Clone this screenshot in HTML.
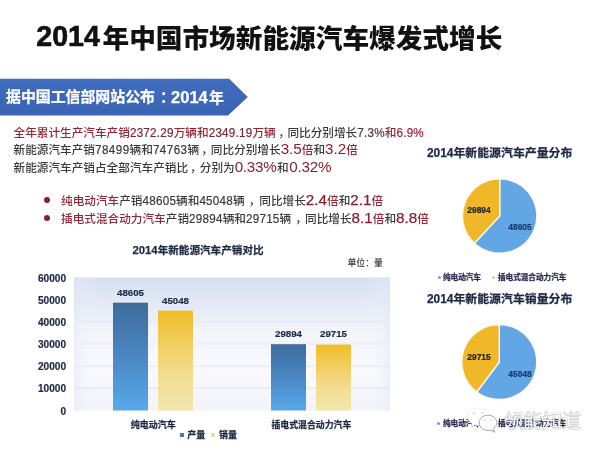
<!DOCTYPE html>
<html><head><meta charset="utf-8">
<style>
*{margin:0;padding:0;box-sizing:border-box}
html,body{width:600px;height:450px;overflow:hidden;background:#fff}
body{position:relative;font-family:"Liberation Sans","Noto Sans CJK SC",sans-serif;color:#3a3a3a}
.a{position:absolute;white-space:nowrap;line-height:1}
.r{color:#952638}
.big{font-size:15.2px;color:#86202f}
.bb .big{-webkit-text-stroke:0.25px}
.d2{letter-spacing:0.45px;-webkit-text-stroke:0.2px;display:inline-block;transform:translateY(-0.5px) scaleY(1.12);transform-origin:50% 84.6%}
.cm{margin-right:1.5px}
.cma{position:relative;left:5.5px}
#title{left:38px;top:25px;font-size:27px;font-weight:900;color:#111}
.bt{top:89.8px;font-weight:bold;color:#fff;-webkit-text-stroke:0.25px #fff}
.ln{font-size:11.65px;left:13.5px;font-weight:500}
.d{letter-spacing:0.25px;-webkit-text-stroke:0.2px;display:inline-block;transform:translateY(-0.5px) scaleY(1.12);transform-origin:50% 84.6%}
.ct{font-weight:bold;color:#1e2a45}
.pt{-webkit-text-stroke:0.25px #1e2a45}
.yl{left:26px;font-size:10.1px;font-weight:bold;color:#1e2a45;-webkit-text-stroke:0.2px #1e2a45;text-align:right;width:40px}
.bl{font-size:9.7px;font-weight:bold;color:#1e2a45;-webkit-text-stroke:0.2px #1e2a45;text-align:center;width:40px}
</style></head><body>
<div class="a" id="title" style="left:102.5px;top:25.5px;font-size:26.66px">年中国市场新能源汽车爆发式增长</div>
<div class="a" style="left:36.3px;top:21.5px;font-size:28.6px;font-weight:bold;color:#111;-webkit-text-stroke:0.6px #111">2014</div>
<svg class="a" style="left:0;top:0" width="600" height="450">
  <defs>
    <linearGradient id="ban" x1="0" y1="0" x2="0" y2="1">
      <stop offset="0" stop-color="#416dbf"/>
      <stop offset="1" stop-color="#3a64b3"/>
    </linearGradient>
  </defs>
  <polygon points="0,78.8 229.2,78.8 247.8,97 228,115.4 0,115.4" fill="url(#ban)"/>
</svg>
<div class="a bt" style="left:6px;font-size:14.9px">据中国工信部网站公布</div>
<div class="a bt" style="left:160px;font-size:14.6px">：</div>
<div class="a bt" style="left:171.1px;top:88.6px;font-size:16.5px">2014<span style="font-size:14.9px;margin-left:1.1px">年</span></div>

<div class="a ln" style="top:127.4px"><span class="r">全年累计生产汽车产销<span class="d" style="color:#7a2835">2372.29</span>万辆和<span class="d" style="color:#7a2835">2349.19</span>万辆</span><span class="cma" style="left:2.6px">，</span>同比分别增长<span class="d" style="color:#553640">7.3%</span><span class="r">和<span class="d">6.9%</span></span></div>
<div class="a ln" style="top:141.4px">新能源汽车产销<span class="d2">78499</span>辆和<span class="d2">74763</span>辆<span class="cma" style="left:2px">，</span>同比分别增长<span class="r big">3.5</span><span class="r">倍</span>和<span class="r big">3.2</span><span class="r">倍</span></div>
<div class="a ln" style="top:159.3px">新能源汽车产销占全部汽车产销比<span class="cma" style="left:2px">，</span>分别为<span class="r big" style="letter-spacing:-0.25px">0.33%</span><span style="margin:0 0.6px 0 0.6px">和</span><span class="r big" style="letter-spacing:-0.25px">0.32%</span></div>

<div class="a" style="left:44px;top:197.3px;width:6px;height:6px;border-radius:50%;background:#8e1f2a"></div>
<div class="a" style="left:44px;top:215.2px;width:6px;height:6px;border-radius:50%;background:#8e1f2a"></div>
<div class="a ln bb" style="left:61px;top:192px"><span class="r">纯电动汽车</span>产销<span class="d">48605</span>辆和<span class="d">45048</span>辆<span class="cm cma" style="left:4px;margin-right:3px">，</span>同比增长<span class="r big">2.4</span><span class="r">倍</span>和<span class="r big">2.1</span><span class="r">倍</span></div>
<div class="a ln bb" style="left:61px;top:209.75px"><span class="r">插电式混合动力汽车</span>产销<span class="d">29894</span>辆和<span class="d">29715</span>辆<span class="cm cma" style="left:4px;margin-right:2.2px">，</span>同比增长<span class="r big">8.1</span><span class="r">倍</span>和<span class="r big">8.8</span><span class="r">倍</span></div>

<!-- bar chart -->
<div class="a ct pt" style="left:132.5px;top:244.5px;font-size:10.6px"><span style="font-size:11.3px">2014</span>年新能源汽车产销对比</div>
<div class="a" style="left:347.5px;top:259.3px;font-size:8.9px;color:#333;font-weight:500">单位：量</div>
<svg class="a" style="left:0;top:0" width="600" height="450">
  <defs>
    <linearGradient id="plot" x1="0" y1="0" x2="0" y2="1">
      <stop offset="0" stop-color="#d4dff0"/>
      <stop offset="0.17" stop-color="#e1e8f5"/>
      <stop offset="0.42" stop-color="#f3f5fb"/>
      <stop offset="0.7" stop-color="#f9f9fd"/>
      <stop offset="1" stop-color="#f3f4fa"/>
    </linearGradient>
    <linearGradient id="plotx" x1="0" y1="0" x2="1" y2="0">
      <stop offset="0" stop-color="#dfe7f4" stop-opacity="0.5"/>
      <stop offset="0.08" stop-color="#ffffff" stop-opacity="0"/>
      <stop offset="0.92" stop-color="#ffffff" stop-opacity="0"/>
      <stop offset="1" stop-color="#dfe7f4" stop-opacity="0.5"/>
    </linearGradient>
    <linearGradient id="bb" x1="0" y1="0" x2="0" y2="1">
      <stop offset="0" stop-color="#3d6c9b"/>
      <stop offset="0.5" stop-color="#4a87c3"/>
      <stop offset="1" stop-color="#58a9ea"/>
    </linearGradient>
    <linearGradient id="by" x1="0" y1="0" x2="0" y2="1">
      <stop offset="0" stop-color="#efbe27"/>
      <stop offset="0.35" stop-color="#f1cf62"/>
      <stop offset="0.7" stop-color="#f2df98"/>
      <stop offset="1" stop-color="#f2e6aa"/>
    </linearGradient>
  </defs>
  <rect x="74" y="277.5" width="316" height="133" fill="url(#plot)"/>
  <rect x="74" y="277.5" width="316" height="133" fill="url(#plotx)"/>
  <g stroke="#e4e7ee" stroke-width="1">
    <line x1="74" x2="390" y1="299.7" y2="299.7"/>
    <line x1="74" x2="390" y1="321.8" y2="321.8"/>
    <line x1="74" x2="390" y1="344" y2="344"/>
    <line x1="74" x2="390" y1="366.2" y2="366.2"/>
    <line x1="74" x2="390" y1="388.3" y2="388.3"/>
  </g>
  <rect x="113" y="302.7" width="35" height="107.8" fill="url(#bb)"/>
  <rect x="158" y="310.6" width="35" height="99.9" fill="url(#by)"/>
  <rect x="271" y="344.2" width="35" height="66.3" fill="url(#bb)"/>
  <rect x="316" y="344.6" width="35" height="65.9" fill="url(#by)"/>
</svg>
<div class="a yl" style="top:273.5px">60000</div>
<div class="a yl" style="top:295.7px">50000</div>
<div class="a yl" style="top:317.9px">40000</div>
<div class="a yl" style="top:339.7px">30000</div>
<div class="a yl" style="top:362px">20000</div>
<div class="a yl" style="top:384.2px">10000</div>
<div class="a yl" style="top:406.5px">0</div>

<div class="a bl" style="left:110.5px;top:287.5px">48605</div>
<div class="a bl" style="left:155.5px;top:295.5px">45048</div>
<div class="a bl" style="left:268.5px;top:328.6px">29894</div>
<div class="a bl" style="left:313.5px;top:328.6px">29715</div>

<div class="a ct" style="left:130.7px;top:421.4px;font-size:9px;-webkit-text-stroke:0.25px #1e2a45">纯电动汽车</div>
<div class="a ct" style="left:271.5px;top:421.4px;font-size:8.9px;-webkit-text-stroke:0.25px #1e2a45">插电式混合动力汽车</div>
<div class="a" style="left:180.4px;top:432.7px;width:4px;height:4px;background:#4a7ab2"></div>
<div class="a ct" style="left:187.2px;top:431.2px;font-size:9px;-webkit-text-stroke:0.25px #1e2a45">产量</div>
<div class="a" style="left:210.5px;top:432.7px;width:4.5px;height:4px;background:#e7e2a8"></div>
<div class="a ct" style="left:219px;top:431.2px;font-size:9px;-webkit-text-stroke:0.25px #1e2a45">销量</div>

<!-- pies -->
<div class="a ct pt" style="left:427px;top:147.8px;font-size:11.9px">2014年新能源汽车产量分布</div>
<div class="a ct pt" style="left:427px;top:293.8px;font-size:11.9px">2014年新能源汽车销量分布</div>
<svg class="a" style="left:0;top:0" width="600" height="450" id="pies"><path d="M499.70,216.00 L499.70,178.80 A37.2,37.2 0 1 1 474.37,243.25 Z" fill="#62a6e6" stroke="#fdf9ee" stroke-width="1.4" stroke-linejoin="round"/><path d="M499.70,216.00 L474.37,243.25 A37.2,37.2 0 0 1 499.70,178.80 Z" fill="#f0b829" stroke="#fdf9ee" stroke-width="1.4" stroke-linejoin="round"/><path d="M499.30,362.00 L499.30,324.50 A37.5,37.5 0 1 1 476.78,391.98 Z" fill="#62a6e6" stroke="#fdf9ee" stroke-width="1.4" stroke-linejoin="round"/><path d="M499.30,362.00 L476.78,391.98 A37.5,37.5 0 0 1 499.30,324.50 Z" fill="#f0b829" stroke="#fdf9ee" stroke-width="1.4" stroke-linejoin="round"/></svg>


<!-- pie labels -->
<div class="a" style="left:466px;top:205.5px;font-size:8.4px;font-weight:bold;color:#222;-webkit-text-stroke:0.2px #222;width:26px;text-align:center">29894</div>
<div class="a" style="left:507px;top:222.5px;font-size:8.4px;font-weight:bold;color:#1c3874;-webkit-text-stroke:0.2px #1c3874;width:26px;text-align:center">48605</div>
<div class="a" style="left:466px;top:352.5px;font-size:8.4px;font-weight:bold;color:#222;-webkit-text-stroke:0.2px #222;width:26px;text-align:center">29715</div>
<div class="a" style="left:507px;top:369.5px;font-size:8.4px;font-weight:bold;color:#1c3874;-webkit-text-stroke:0.2px #1c3874;width:26px;text-align:center">45048</div>
<!-- pie legends -->
<div class="a" style="left:437.5px;top:276px;width:3px;height:3px;border-radius:50%;background:#7a9db4"></div>
<div class="a ct" style="left:443px;top:274px;font-size:7.6px;color:#262850;-webkit-text-stroke:0.25px #262850">纯电动汽车</div>
<div class="a" style="left:492px;top:276px;width:3px;height:3px;border-radius:50%;background:#dccb80"></div>
<div class="a ct" style="left:498px;top:274px;font-size:7.6px;color:#262850;-webkit-text-stroke:0.25px #262850">插电式混合动力汽车</div>
<div class="a" style="left:437px;top:422px;width:3px;height:3px;border-radius:50%;background:#7a9db4"></div>
<div class="a ct" style="left:443px;top:420.2px;font-size:7.6px;color:#262850;-webkit-text-stroke:0.25px #262850">纯电动汽车</div>
<div class="a" style="left:492px;top:422px;width:3px;height:3px;border-radius:50%;background:#dccb80"></div>
<div class="a ct" style="left:498px;top:420.2px;font-size:7.6px;color:#262850;-webkit-text-stroke:0.25px #262850">插电式混合动力汽车</div>
<!-- watermark -->
<svg class="a" style="left:0;top:0" width="600" height="450">
  <path d="M479,408 C485.5,408 490.5,411.8 490.5,416.8 C490.5,421.8 485.5,425.5 479,425.5 C477.5,425.5 476,425.3 474.8,424.9 L471,427.5 L472,423.3 C469.3,421.7 467.5,419.4 467.5,416.8 C467.5,411.8 472.5,408 479,408 Z" fill="#fff" stroke="#e8e8e8" stroke-width="0.7"/>
  <path d="M488,415.2 C493,415.2 496.8,418.6 496.8,422.8 C496.8,425.3 495.5,427.3 493.4,428.7 L494.6,432.3 L490.8,430.2 C489.9,430.4 489,430.5 488,430.5 C483,430.5 479.2,427.1 479.2,422.8 C479.2,418.6 483,415.2 488,415.2 Z" fill="#fff" stroke="#9c9c9c" stroke-width="0.9"/>
  <g fill="#c8c8c8"><circle cx="474" cy="412.8" r="0.9"/><circle cx="482.5" cy="412.8" r="0.9"/><circle cx="485" cy="420" r="0.8"/><circle cx="491" cy="420" r="0.8"/></g>
  <text x="503.5" y="428" font-family="Liberation Sans, Noto Sans CJK SC, sans-serif" font-size="19.5" font-weight="300" fill="#fff" stroke="#b4b4b4" stroke-width="0.9" paint-order="stroke" stroke-linejoin="round">领能知道</text>
</svg>
</body></html>
